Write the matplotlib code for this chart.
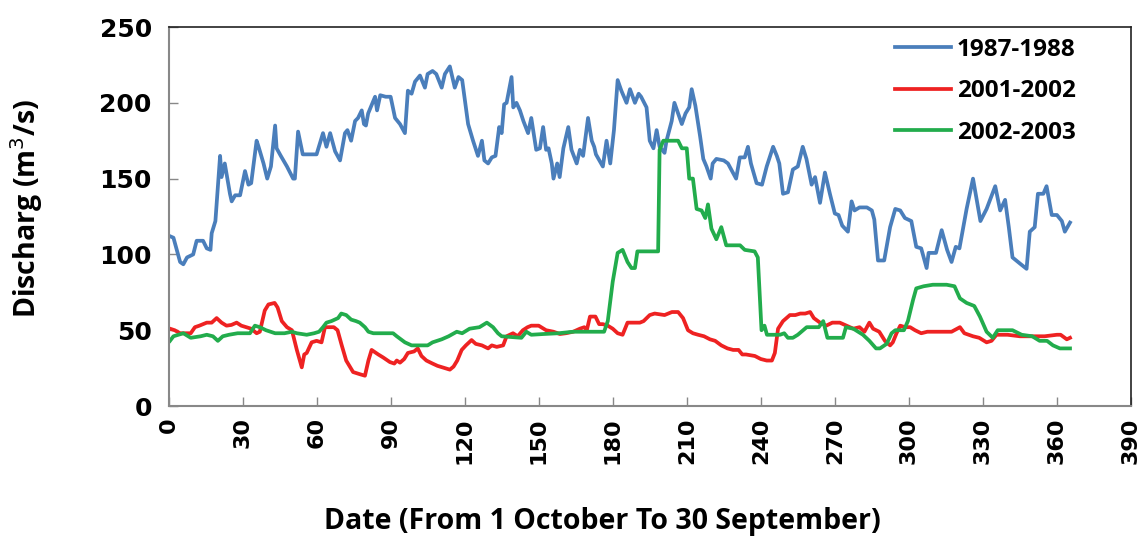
import matplotlib
matplotlib.use("Agg")
import matplotlib.pyplot as plt

# (day, discharge m3/s)
flow_8788 = [
    (0.6, 112), (2, 111), (4.7, 95), (6, 93.5), (7.5, 98), (10, 100), (11.4, 109),
    (14, 109), (15.5, 104), (17, 103), (17.5, 114), (19, 122), (20.9, 165), (21.5, 151),
    (22.8, 160), (24.9, 140), (25.6, 135), (27, 139), (29, 139), (31, 155), (32.4, 146),
    (33.5, 147), (35.7, 175), (36.5, 171), (38.5, 160), (40, 150), (41.5, 158),
    (43.2, 185), (43.8, 170), (45.5, 165), (48, 158), (50.5, 150), (51.2, 150),
    (52.5, 181), (54.4, 166), (57, 166), (60, 166), (62.6, 180), (64, 171), (65.5, 180),
    (67.5, 168), (69.5, 162), (71.5, 180), (72.5, 182), (74, 175), (75.6, 188),
    (76.8, 190), (78.3, 195), (79.2, 186), (80, 185), (80.9, 193), (83.7, 204),
    (84.5, 195), (85.8, 205), (88, 204), (90, 204), (91.8, 190), (93.8, 186),
    (95.8, 180), (97, 208), (98.5, 206), (99.9, 214), (101.9, 218), (103.9, 210),
    (105, 219), (107, 221), (108.5, 219), (110.7, 210), (112, 219), (114, 224),
    (116, 210), (117.5, 217), (119, 215), (121.4, 186), (123.4, 175), (125.4, 165),
    (127, 175), (128, 162), (129.5, 160), (131, 164), (132.5, 165), (134, 184),
    (135, 180), (136, 199), (137, 200), (139, 217), (139.7, 197), (141, 200),
    (142.4, 195), (143.8, 188), (145.7, 180), (147, 190), (149, 169), (150.5, 170),
    (151.8, 184), (153, 169), (154, 170), (155.3, 160), (156, 150), (157.5, 160),
    (158.5, 151), (160, 170), (162, 184), (163.3, 169), (165.4, 160), (166.7, 169),
    (168, 165), (170, 190), (171.5, 175), (172.5, 171), (173.2, 166), (176, 158),
    (177.5, 175), (179, 160), (180.5, 182), (182, 215), (183.5, 208), (185.6, 200),
    (187, 209), (189, 200), (190.5, 206), (191.5, 204), (193.7, 197), (195, 175),
    (196.5, 170), (197.8, 182), (199, 171), (201, 167), (201.8, 175), (203.9, 188),
    (205, 200), (208, 186), (209.5, 193), (211, 197), (212, 209), (213.5, 198),
    (215.4, 178), (216.7, 163), (218, 158), (219.7, 150), (220.5, 160), (222, 163),
    (225, 162), (226.7, 160), (228, 156), (230, 150), (231.5, 164), (233.5, 164),
    (234.8, 171), (236, 160), (238.3, 147), (240.5, 146), (242.4, 158), (245, 171),
    (246.5, 165), (247.5, 160), (249, 140), (251, 141), (253, 156), (255, 158),
    (257, 171), (258.5, 163), (260.6, 146), (262, 151), (264, 134), (266, 154),
    (268, 140), (270, 127), (271.5, 126), (273, 119), (275.3, 115), (276.8, 135),
    (278, 129), (280, 131), (283, 131), (285, 129), (286, 123), (287.5, 96), (290, 96),
    (292.4, 118), (294.5, 130), (296.5, 129), (298.4, 124), (301, 122), (303, 105),
    (305, 104), (307.2, 91), (308, 101), (311, 101), (313.3, 116), (315.5, 103),
    (317.3, 95), (319, 105), (320.5, 104), (323.4, 130), (326, 150), (329, 122),
    (331.5, 130), (335, 145), (337, 129), (339, 136), (340.5, 118), (342, 98), (345, 94),
    (347.7, 90.5), (349, 115), (351, 118), (352.3, 140), (354.5, 140), (355.8, 145),
    (357.9, 126), (360, 126), (362, 122), (363.2, 115), (365.3, 121),
]

flow_0102 = [
    (0.6, 51), (2.5, 50), (4.7, 48), (9, 48), (10.7, 52), (12.5, 53), (15.5, 55),
    (17.5, 55), (19.5, 58), (21.5, 55), (23.5, 53), (25.5, 53.5), (27.6, 55), (29.5, 53),
    (31.5, 52), (33.5, 51), (35.7, 48), (37, 49), (39, 63), (40.5, 67), (43, 68),
    (44.2, 65), (45.9, 56), (48, 52), (50, 50), (52, 37), (54, 25.5), (55, 34), (56, 35),
    (58, 42), (60, 43), (62, 42), (63.4, 52), (67, 52), (68.5, 50), (70.2, 40), (72, 30),
    (74.8, 22.4), (77.5, 21), (79.6, 20), (81, 30), (82.3, 37), (85, 34), (87, 32),
    (89.7, 29), (91.5, 28), (92.5, 30), (93.8, 28.6), (95.5, 31), (97, 35), (99.5, 36),
    (101, 38), (102.5, 33), (104.5, 30), (107, 28), (109, 26.5), (111, 25.5), (114, 24),
    (115.5, 26), (117, 30), (118.8, 37), (120.5, 40), (122.8, 43.5), (124.5, 41),
    (127, 40), (129.5, 38), (131, 40), (133, 39), (135.6, 40), (137, 46), (139.6, 48),
    (141.5, 46), (143.6, 50), (145.5, 52), (147, 53), (150, 53), (153, 50), (156, 49),
    (158.6, 47.5), (161, 48), (164, 49), (166.7, 51), (168.5, 52), (169.5, 50),
    (170.8, 59), (173, 59), (174.5, 54), (176, 54), (178, 53), (180, 51), (182, 48),
    (184, 47), (186, 55), (188, 55), (190, 55), (191, 55), (192.5, 56), (195, 60),
    (197, 61), (199, 60.5), (201, 60), (204, 62), (206.5, 62), (208.5, 58), (210.5, 50),
    (212.5, 48), (214.6, 47), (217, 46), (219.4, 44), (221.5, 43), (224, 40),
    (226.5, 38), (228.8, 37), (231, 37), (232.5, 34), (234, 34), (237.6, 33), (240, 31),
    (242.4, 30), (244.5, 30), (245.7, 35), (247, 51), (249, 56), (251.8, 60), (254, 60),
    (256, 61), (258, 61), (260, 62), (261.5, 58), (264, 55), (266.5, 53), (269, 55),
    (272, 55), (274.8, 53), (277.5, 51), (280, 52), (282, 49), (284, 55), (285.5, 51),
    (288, 49), (290.3, 43), (292.4, 40), (293.5, 42), (295, 48), (296.5, 53),
    (298.5, 52), (300.5, 52), (302.5, 50), (305, 48), (307.5, 49), (310, 49),
    (313.5, 49), (317.3, 49), (320.7, 52), (322.5, 48), (326, 46), (328.5, 45),
    (331.5, 42), (333.5, 43), (335.5, 47), (340, 47), (345, 46), (350, 46), (355, 46),
    (360, 47), (361.5, 47), (364, 44), (365.3, 45),
]

flow_0203 = [
    (0.6, 43), (2, 46), (6, 48), (9, 45), (13, 46), (15.5, 47), (18, 46), (20, 43),
    (22, 46), (24.5, 47), (28, 48), (33, 48), (35, 53), (37, 52), (39.5, 50),
    (43.2, 48), (47, 48), (50, 49), (52, 48), (56, 47), (59, 48), (61, 49), (62.6, 52),
    (64, 55), (66, 56), (68.7, 58), (70, 61), (72, 60), (74, 57), (76, 56), (77.5, 55),
    (79.6, 52), (81, 49), (83, 48), (91, 48), (92.5, 46), (95.8, 42), (98.5, 40),
    (102, 40), (105, 40), (107, 42), (110.7, 44), (113.5, 46), (116.8, 49), (119, 48),
    (122, 51), (126, 52), (129, 55), (131.5, 52), (133.5, 48), (135, 46), (139, 45.5),
    (143, 45), (145, 49), (147, 47), (152, 47.5), (158, 48), (164, 49), (170, 49),
    (176.5, 49), (178, 56), (180, 82), (182, 101), (184, 103), (186, 95), (187.6, 91),
    (189, 91), (190, 102), (195, 102), (198.4, 102), (199, 169), (200.5, 175),
    (206.5, 175), (208, 170), (210, 170), (211, 150), (212.5, 150), (214, 130),
    (216, 129), (217.5, 124), (218.6, 133), (220, 117), (222, 110), (224, 118),
    (226, 106), (231.6, 106), (233.5, 103), (237.5, 102), (238.8, 98), (240.3, 50),
    (241.5, 53), (242.5, 47), (247.8, 47), (249.5, 48), (251, 45), (253, 45), (255, 47),
    (258.6, 52), (261, 52), (263.5, 52), (265.3, 56), (267, 45), (273.3, 45),
    (274.5, 52), (277.5, 51), (281.4, 47), (284, 43), (286.7, 38), (288.3, 38),
    (291, 41), (293, 48), (294.5, 50), (298, 50), (299.6, 56), (301.7, 70), (303, 77.6),
    (306, 79), (309.7, 80), (315.3, 80), (318.5, 79), (320.7, 71), (323.4, 68),
    (326.5, 66), (328.8, 59), (331.5, 49), (334, 45), (336, 50), (342, 50), (345.7, 47),
    (350, 46), (353, 43), (356, 43), (358.4, 40), (361.2, 38), (365.3, 38),
]

series_names = ["1987-1988", "2001-2002", "2002-2003"]
series_colors = ["#4a7ebb", "#ee2222", "#22ac4c"]
xticks = list(range(0, 391, 30))
yticks = [0, 50, 100, 150, 200, 250]

fig = plt.figure(figsize=(11.44, 5.36), dpi=100)
ax = fig.add_axes([0.1473, 0.2425, 0.8413, 0.7071])

for data, name, col in zip([flow_8788, flow_0102, flow_0203], series_names, series_colors):
    d, q = zip(*data)
    ax.plot(d, q, color=col, lw=2.7, label=name, solid_joinstyle="round")

ax.set_xlim(0, 390)
ax.set_ylim(0, 250)
ax.set_xticks(xticks)
ax.set_yticks(yticks)
ax.tick_params(axis="both", direction="in", length=6.5, width=1, color="#888888")
ax.tick_params(axis="y", pad=12, labelsize=18)
ax.tick_params(axis="x", pad=8, labelsize=16, labelrotation=90)
for lab in ax.get_xticklabels() + ax.get_yticklabels():
    lab.set_fontweight("bold")

for s in ["left", "bottom"]:
    ax.spines[s].set_color("#888888")
    ax.spines[s].set_linewidth(1.5)
for s in ["top", "right"]:
    ax.spines[s].set_color("#222222")
    ax.spines[s].set_linewidth(1.2)

ax.set_xlabel("Date (From 1 October To 30 September)", fontsize=20.5, fontweight="bold",
              family="Open Sans")
ax.xaxis.set_label_coords(0.451, -0.266)
ax.set_ylabel("Discharg (m$^3$/s)", fontsize=20.5, fontweight="bold", family="Open Sans")
ax.yaxis.set_label_coords(-0.128, 0.522)

ax.legend(loc="upper left", bbox_to_anchor=(0.782, 0.93), bbox_transform=fig.transFigure,
          frameon=False, prop={"weight": "bold", "size": 17.5, "family": "Open Sans"},
          handlelength=2.3, labelspacing=0.72, handletextpad=0.25, borderpad=0,
          borderaxespad=0)

fig.savefig("out.png", dpi=100)
